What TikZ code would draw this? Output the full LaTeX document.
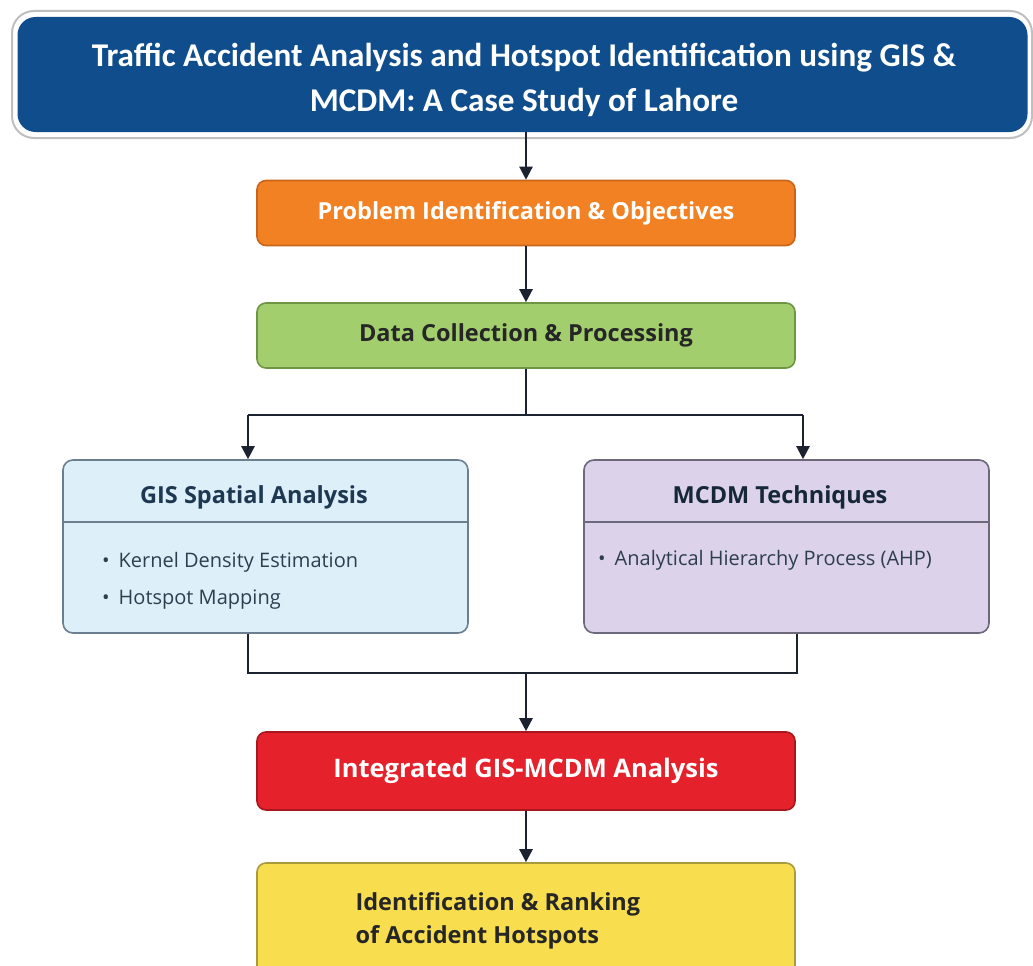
\documentclass[tikz,border=0pt]{standalone}
\usepackage{fontspec}
\setmainfont{Open Sans}
\newfontfamily\bannerfont{Carlito}
\usetikzlibrary{arrows.meta}
\definecolor{titleblue}{HTML}{0F4D8C}
\definecolor{probfill}{HTML}{F28124}
\definecolor{probedge}{HTML}{C9651A}
\definecolor{datafill}{HTML}{A3CE6E}
\definecolor{dataedge}{HTML}{6E9444}
\definecolor{gisfill}{HTML}{DDEFF9}
\definecolor{gisedge}{HTML}{6C7F90}
\definecolor{mcdmfill}{HTML}{DCD3EA}
\definecolor{mcdmedge}{HTML}{6D687C}
\definecolor{integfill}{HTML}{E5222B}
\definecolor{integedge}{HTML}{A8171D}
\definecolor{rankfill}{HTML}{F8DE4F}
\definecolor{rankedge}{HTML}{A99A3C}
\definecolor{linkcol}{HTML}{1C2230}
\definecolor{headcol}{HTML}{1E3852}
\definecolor{itemcol}{HTML}{2E3E4E}

\tikzset{
  flowbox/.style={rounded corners=9pt, line width=1.6pt, minimum width=538pt, minimum height=65pt, inner sep=0pt,
    font=\fontsize{23.5}{28}\selectfont\bfseries},
  panel/.style={rounded corners=10pt, line width=1.6pt, minimum width=405pt, minimum height=173pt, inner sep=0pt},
  headtxt/.style={font=\fontsize{23.5}{28}\selectfont\bfseries, text=headcol},
  itemtxt/.style={font=\fontsize{20}{24}\selectfont, text=itemcol, anchor=west, inner sep=0pt},
  flowline/.style={draw=linkcol, line width=2.4pt},
  flowarrow/.style={flowline, -{Triangle[length=13pt,width=13pt]}}
}

\begin{document}
\begin{tikzpicture}[x=1pt,y=-1pt]
\useasboundingbox (0,0) rectangle (1033,966);
\fill[white] (0,0) rectangle (1033,966);

% Title banner
\draw[rounded corners=22pt, draw=gray!50, fill=white, line width=2pt] (12,11) rectangle (1032,138);
\node[rounded corners=18pt, fill=titleblue, minimum width=1010pt, minimum height=115pt, inner sep=0pt]
  (banner) at (522.5,74.5) {};
\node[text=white, align=center, font=\bannerfont\fontsize{33.2}{45}\selectfont\bfseries]
  (title) at (524,80) {Traffic Accident Analysis and Hotspot Identification using GIS \&\\ MCDM: A Case Study of Lahore};

% Main steps
\node[flowbox, draw=probedge, fill=probfill, text=white] (prob) at (526,213) {Problem Identification \& Objectives};
\node[flowbox, draw=dataedge, fill=datafill, text=black!85] (data) at (526,335.5) {Data Collection \& Processing};

% Two analysis panels
\node[panel, draw=gisedge, fill=gisfill] (gis) at (265.5,546.5) {};
\node[headtxt] (gishead) at (254,497) {GIS Spatial Analysis};
\draw[gisedge, line width=1.4pt] (gis.west |- 0,522) -- (gis.east |- 0,522);
\node[itemtxt] (kde) at (102,562) {\textbullet\hspace{0.45em}Kernel Density Estimation};
\node[itemtxt] (hsm) at (102,600) {\textbullet\hspace{0.45em}Hotspot Mapping};

\node[panel, draw=mcdmedge, fill=mcdmfill] (mcdm) at (786.5,546.5) {};
\node[headtxt, text=headcol!70!black] (mcdmhead) at (780,497) {MCDM Techniques};
\draw[mcdmedge, line width=1.4pt] (mcdm.west |- 0,522) -- (mcdm.east |- 0,522);
\node[itemtxt] (ahp) at (598,560) {\textbullet\hspace{0.45em}Analytical Hierarchy Process (AHP)};

% Integration and result
\node[flowbox, draw=integedge, fill=integfill, text=white, minimum height=78pt, font=\fontsize{25.5}{30}\selectfont\bfseries]
  (integ) at (526,771) {Integrated GIS-MCDM Analysis};
\node[flowbox, draw=rankedge, fill=rankfill, minimum height=115pt] (rank) at (526,920.5) {};
\node[anchor=west, align=left, text=black!85, font=\fontsize{23.5}{33}\selectfont\bfseries]
  (ranktxt) at (352,921) {Identification \& Ranking\\of Accident Hotspots};

% Connectors
\coordinate (splitL) at (248,415);
\coordinate (splitR) at (803,415);
\coordinate (joinL) at (248,673);
\coordinate (joinR) at (797,673);

\draw[flowarrow] (banner.south -| prob) -- (prob.north);
\draw[flowarrow] (prob) -- (data);
\draw[flowline] (data.south) -- (data.south |- splitL);
\draw[flowline] (splitL) -- (splitR);
\draw[flowarrow] (splitL) -- (splitL |- gis.north);
\draw[flowarrow] (splitR) -- (splitR |- mcdm.north);
\draw[flowline] (joinL |- gis.south) -- (joinL) -- (joinR) -- (joinR |- mcdm.south);
\draw[flowarrow] (joinL -| integ) -- (integ.north);
\draw[flowarrow] (integ) -- (rank);
\end{tikzpicture}
\end{document}
